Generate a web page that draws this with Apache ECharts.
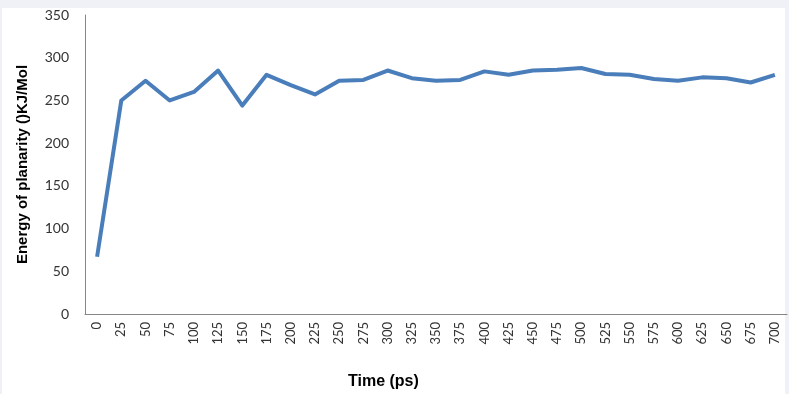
<!DOCTYPE html>
<html>
<head>
<meta charset="utf-8">
<script src="https://cdn.jsdelivr.net/npm/echarts@6/dist/echarts.min.js"></script>
<style>
html,body{margin:0;padding:0;background:#eff1f7;}
#chart{width:789px;height:394px;}
</style>
</head>
<body>
<div id="chart"></div>
<script>
const timeLabels = ['0','25','50','75','100','125','150','175','200','225','250','275','300','325','350','375','400','425','450','475','500','525','550','575','600','625','650','675','700'];
const energyValues = [67,250,273,250,260,285,244,280,268,257,273,274,285,276,273,274,284,280,285,286,288,281,280,275,273,277,276,271,280];
const yTicks = { min: 0, max: 350, interval: 50 };
const xAxisTitle = 'Time (ps)';
const yAxisTitle = 'Energy of planarity ()KJ/Mol';

const chart = echarts.init(document.getElementById('chart'), null, {renderer:'canvas'});
chart.setOption({
  backgroundColor: '#eff1f7',
  animation: false,
  graphic: [
    { type:'rect', z:-10, shape:{x:2,y:8,width:783,height:386}, style:{fill:'#ffffff'} },
    { type:'text', left:348, top:374, style:{text:xAxisTitle, font:'bold 16px "Liberation Sans", Arial, sans-serif', fill:'#000'} }
  ],
  grid: { left: 85, top: 15, width: 702, height: 299, containLabel:false },
  xAxis: {
    type: 'category',
    data: timeLabels,
    boundaryGap: true,
    axisLine: { lineStyle: { color: '#868686', width: 1 } },
    axisTick: { show: false },
    axisLabel: { rotate: 90, interval: 0, margin: 8, fontSize: 13, color: '#333', fontFamily: 'Lato, "Liberation Sans", sans-serif' },
    splitLine: { show: false }
  },
  yAxis: {
    type: 'value',
    min: yTicks.min, max: yTicks.max, interval: yTicks.interval,
    name: yAxisTitle,
    nameLocation: 'middle',
    nameRotate: 90,
    nameGap: 55,
    nameTextStyle: { fontSize: 15, fontWeight: 'bold', color: '#000', fontFamily: '"Liberation Sans", Arial, sans-serif' },
    axisLine: { show: true, lineStyle: { color: '#868686', width: 1 } },
    axisTick: { show: false },
    axisLabel: { margin: 16, fontSize: 14, color: '#333', fontFamily: 'Lato, "Liberation Sans", sans-serif' },
    splitLine: { show: false }
  },
  series: [{
    type: 'line',
    data: energyValues,
    symbol: 'none',
    lineStyle: { color: '#4a7ebb', width: 4, join: 'round' },
    itemStyle: { color: '#4a7ebb' }
  }]
});
</script>
</body>
</html>
